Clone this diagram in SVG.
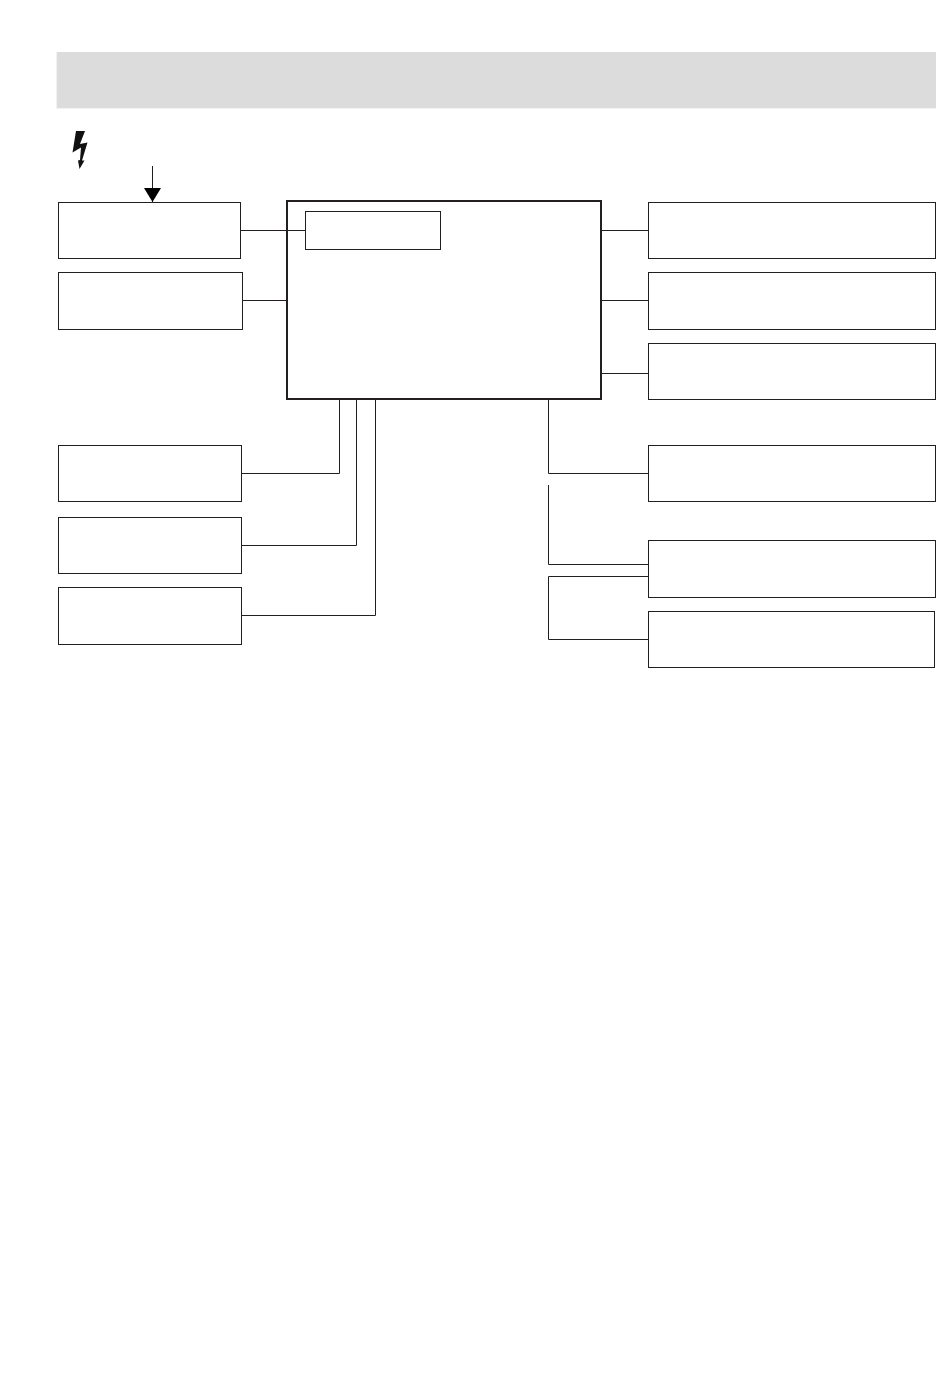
<svg xmlns="http://www.w3.org/2000/svg" width="950" height="1383" viewBox="0 0 950 1383">
<style>
.b{fill:#fff;stroke:#231f20;stroke-width:1}
.c{fill:none;stroke:#231f20;stroke-width:1}
</style>
<defs>
<marker id="ah" markerUnits="userSpaceOnUse" markerWidth="17" markerHeight="14" refX="8.5" refY="14" orient="0" viewBox="0 0 17 14"><path d="M0 0H17L8.5 14Z" fill="#000"/></marker>
</defs>
<rect width="950" height="1383" fill="#fff"/>
<rect x="56" y="52" width="880" height="57" fill="#f2f2f2"/>
<rect id="banner" x="57" y="52" width="879" height="56" fill="#dcdcdc"/>
<path id="bolt" d="M76 131L85 131L80 144L87.500 142.500L82 160.500L84.500 160.500L79.500 169L78 160.500L80 160L81 147.500L72.500 152.500Z" fill="#111"/>
<g id="connectors">
<path class="c" d="M152.500 166V202" marker-end="url(#ah)"/>
<path class="c" d="M240.500 230.500H305.500"/>
<path class="c" d="M242.500 300.500H287.500"/>
<path class="c" d="M242 473.500H339.500V399"/>
<path class="c" d="M242 545.500H356.500V399"/>
<path class="c" d="M242 615.500H375.500V399"/>
<path class="c" d="M601 230.500H648.500"/>
<path class="c" d="M601 300.500H648.500"/>
<path class="c" d="M601 373.500H648.500"/>
<path class="c" d="M548.500 399V473.500H648.500"/>
<path class="c" d="M548.500 485V564.500H648.500"/>
<path class="c" d="M648.500 576.500H548.500V639.500H648.500"/>
</g>
<g id="main"><rect x="287" y="201" width="314" height="198" fill="none" stroke="#231f20" stroke-width="2"/></g>
<g id="inner"><rect class="b" x="305.500" y="211.500" width="135" height="38"/></g>
<g id="l1"><rect class="b" x="58.500" y="202.500" width="182" height="56"/></g>
<g id="l2"><rect class="b" x="58.500" y="272.500" width="184" height="57"/></g>
<g id="l3"><rect class="b" x="58.500" y="445.500" width="183" height="56"/></g>
<g id="l4"><rect class="b" x="58.500" y="517.500" width="183" height="56"/></g>
<g id="l5"><rect class="b" x="58.500" y="587.500" width="183" height="57"/></g>
<g id="r1"><rect class="b" x="648.500" y="202.500" width="287" height="56"/></g>
<g id="r2"><rect class="b" x="648.500" y="272.500" width="287" height="57"/></g>
<g id="r3"><rect class="b" x="648.500" y="343.500" width="287" height="56"/></g>
<g id="r4"><rect class="b" x="648.500" y="445.500" width="287" height="56"/></g>
<g id="r5"><rect class="b" x="648.500" y="540.500" width="287" height="57"/></g>
<g id="r6"><rect class="b" x="648.500" y="611.500" width="286" height="56"/></g>
</svg>
